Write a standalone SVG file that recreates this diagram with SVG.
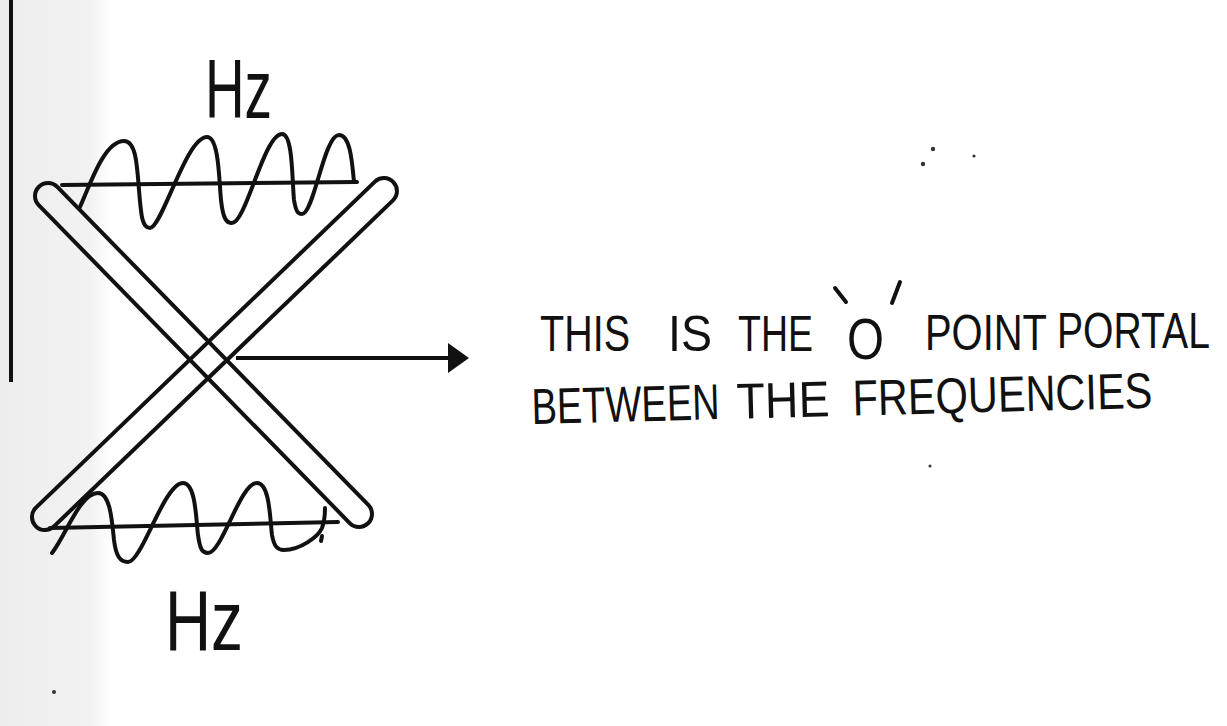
<svg xmlns="http://www.w3.org/2000/svg" width="1227" height="726" viewBox="0 0 1227 726">
  <defs>
    <linearGradient id="strip" x1="0" y1="0" x2="1" y2="0">
      <stop offset="0" stop-color="#ededed"/>
      <stop offset="0.8" stop-color="#f2f2f2"/>
      <stop offset="1" stop-color="#ffffff"/>
    </linearGradient>
    <marker id="head" viewBox="0 0 22 32" refX="0" refY="16" markerWidth="22" markerHeight="32" markerUnits="userSpaceOnUse" orient="auto">
      <path d="M0,1 L21,16 L0,31 Z" fill="#111"/>
    </marker>
  </defs>
  <style>
    .ink { fill: none; stroke: #111; stroke-width: 4; stroke-linecap: round; stroke-linejoin: round; }
    .hand { font-family: "Liberation Sans", "DejaVu Sans", sans-serif; fill: #111; }
    .speck { fill: #333; }
  </style>

  <rect x="0" y="0" width="1227" height="726" fill="#ffffff"/>
  <rect x="0" y="0" width="112" height="726" fill="url(#strip)"/>

  <!-- left vertical line -->
  <line x1="11" y1="0" x2="11" y2="382" stroke="#111" stroke-width="4"/>

  <!-- scan specks -->
  <g id="specks">
    <circle class="speck" cx="933" cy="149" r="2.2"/>
    <circle class="speck" cx="923" cy="164" r="2.2"/>
    <circle class="speck" cx="974" cy="156" r="1.6"/>
    <circle class="speck" cx="930" cy="466" r="1.5"/>
    <circle class="speck" cx="54" cy="692" r="2"/>
  </g>

  <!-- crossed bars -->
  <g id="bar-1">
    <rect class="ink" x="-235.4" y="-13" width="470.8" height="26" rx="13" transform="translate(203.5 355) rotate(45.64)"/>
  </g>
  <g id="bar-2">
    <rect class="ink" x="-248.2" y="-13" width="496.3" height="26" rx="13" transform="translate(214.5 354) rotate(-43.88)"/>
  </g>

  <!-- top wave -->
  <g id="wave-top">
    <line class="ink" x1="62" y1="185" x2="357" y2="182"/>
    <path class="ink" d="M80,207 C90,185 104,141 124,141 C136,141 137,165 139,190 C141,215 142,228 150,228 C162,228 186,137 207,137 C219,137 219,180 221,200 C223,218 226,223 232,223 C246,223 264,134 282,134 C293,134 292,180 294,200 C296,212 298,214 302,214 C314,214 324,135 339,135 C350,135 352,160 354,182"/>
  </g>

  <!-- bottom wave -->
  <g id="wave-bottom">
    <line class="ink" x1="50" y1="528" x2="338" y2="522"/>
    <path class="ink" d="M52,553 C66,535 80,493 98,493 C110,493 112,520 114,540 C116,556 120,562 128,562 C142,562 164,483 183,483 C196,483 196,520 198,535 C200,549 202,553 208,553 C222,553 240,483 257,483 C270,483 270,520 272,535 C274,546 277,550 284,550 C300,550 318,537 322,528 C325,520 325,514 325,508"/>
    <line class="ink" x1="322" y1="536" x2="321" y2="541"/>
  </g>

  <!-- Hz labels -->
  <g id="label-hz-top">
    <text class="hand" font-size="55" transform="translate(205 118) scale(1 1.5)" x="0" y="0" textLength="67" lengthAdjust="spacingAndGlyphs">Hz</text>
  </g>
  <g id="label-hz-bottom">
    <text class="hand" font-size="62" transform="translate(165 650) scale(1 1.38)" x="0" y="0" textLength="78" lengthAdjust="spacingAndGlyphs">Hz</text>
  </g>

  <!-- connector -->
  <g id="connectors">
    <line x1="236" y1="358" x2="448" y2="358" stroke="#111" stroke-width="4" marker-end="url(#head)"/>
  </g>

  <!-- annotation -->
  <g id="note">
    <text class="hand" font-size="40" transform="translate(0 351) scale(1 1.26)" y="0">
      <tspan x="540" textLength="90" lengthAdjust="spacingAndGlyphs">THIS</tspan>
      <tspan x="668" textLength="44" lengthAdjust="spacingAndGlyphs">IS</tspan>
      <tspan x="738" textLength="75" lengthAdjust="spacingAndGlyphs">THE</tspan>
      <tspan x="847" y="6" font-size="45" textLength="37" lengthAdjust="spacingAndGlyphs">O</tspan>
      <tspan x="925" y="-1" font-size="40" textLength="122" lengthAdjust="spacingAndGlyphs">POINT</tspan>
      <tspan x="1057" y="-2" textLength="153" lengthAdjust="spacingAndGlyphs">PORTAL</tspan>
    </text>
    <line class="ink" x1="835" y1="288" x2="846" y2="302"/>
    <line class="ink" x1="900" y1="282" x2="892" y2="303"/>
    <text class="hand" font-size="40" transform="rotate(-1.5 532 424) translate(0 424) scale(1 1.26)" y="0">
      <tspan x="532" textLength="188" lengthAdjust="spacingAndGlyphs">BETWEEN</tspan>
      <tspan x="737" textLength="93" lengthAdjust="spacingAndGlyphs">THE</tspan>
      <tspan x="853" textLength="300" lengthAdjust="spacingAndGlyphs">FREQUENCIES</tspan>
    </text>
  </g>
</svg>
